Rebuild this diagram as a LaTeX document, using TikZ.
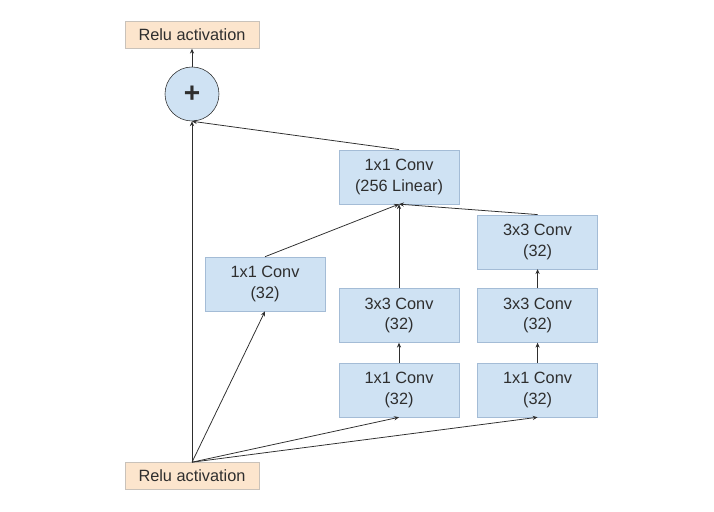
\documentclass[tikz,border=0pt]{standalone}
\usepackage{fontspec}
\setmainfont{Liberation Sans}
\usepackage{xcolor}
\usetikzlibrary{arrows.meta, positioning}

\definecolor{convblue}{HTML}{CFE2F3}
\definecolor{convedge}{HTML}{A4BCD6}
\definecolor{reluorange}{HTML}{FCE5CD}
\definecolor{reluedge}{HTML}{C9C2BA}
\definecolor{linegray}{HTML}{2E2E2E}

\begin{document}
\begin{tikzpicture}[
    node distance=0.5cm and 0.45cm,
    every node/.style={font=\fontsize{11.6}{14.7}\selectfont, text=linegray},
    conv/.style={rectangle, draw=convedge, fill=convblue, minimum height=1.35cm, minimum width=3cm, align=center, inner sep=0pt},
    relu/.style={rectangle, draw=reluedge, fill=reluorange, minimum height=0.675cm, minimum width=3.35cm, inner sep=0pt},
    addop/.style={circle, draw=linegray, fill=convblue, minimum size=1.35cm, inner sep=0pt, font=\fontsize{20}{20}\bfseries},
    connector/.style={-{Stealth[length=3.5pt, width=3pt]}, draw=linegray, line width=0.55pt},
]
    \useasboundingbox (0,0) rectangle (17.85,12.8);

    % Input and output
    \node[relu] (reluin) at (4.8,0.9) {Relu activation};
    \node[addop] (add) at (4.8,10.45) {+};
    \node[relu, above=0.45cm of add] (relutop) {Relu activation};

    % Branches
    \node[conv] (bone) at (6.625,5.7) {1x1 Conv\\(32)};
    \node[conv] (btwoa) at (9.975,3.05) {1x1 Conv\\(32)};
    \node[conv, above=of btwoa] (btwob) {3x3 Conv\\(32)};
    \node[conv, right=of btwoa] (bthreea) {1x1 Conv\\(32)};
    \node[conv, above=of bthreea] (bthreeb) {3x3 Conv\\(32)};
    \node[conv, above=0.475cm of bthreeb] (bthreec) {3x3 Conv\\(32)};
    \node[conv, above=2.1cm of btwob] (linear) {1x1 Conv\\(256 Linear)};

    % Connect everything
    \draw[connector] (reluin.north) -- (add.south);
    \draw[connector] (reluin.north) -- (bone.south);
    \draw[connector] (reluin.north) -- (btwoa.south);
    \draw[connector] (reluin.north) -- (bthreea.south);
    \draw[connector] (btwoa) -- (btwob);
    \draw[connector] (bthreea) -- (bthreeb);
    \draw[connector] (bthreeb) -- (bthreec);
    \draw[connector] (bone.north) -- (linear.south);
    \draw[connector] (btwob) -- (linear);
    \draw[connector] (bthreec.north) -- (linear.south);
    \draw[connector] (linear.north) -- (add.south);
    \draw[connector] (add) -- (relutop);
\end{tikzpicture}
\end{document}
